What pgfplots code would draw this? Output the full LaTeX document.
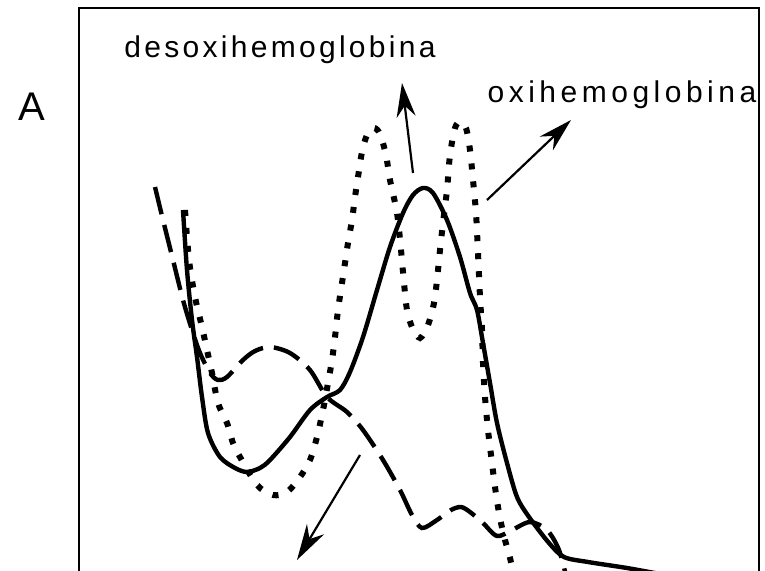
\documentclass[border=0pt]{standalone}
\usepackage{fontspec}
\setmainfont{Liberation Sans}
\usepackage{pgfplots}
\pgfplotsset{compat=1.18}
\usetikzlibrary{arrows.meta}
\begin{document}
\begin{tikzpicture}[x=1pt,y=1pt]
\useasboundingbox (0,0) rectangle (765,570);
\fill[white] (0,0) rectangle (765,570);
\begin{axis}[
  at={(79pt,562pt)}, anchor=north west,
  scale only axis, width=680pt, height=612pt,
  xmin=79, xmax=759, ymin=8, ymax=620, y dir=reverse,
  axis line style={line width=1.8pt},
  ticks=none, clip=false,
]
% deoxyhemoglobin (solid)
\addplot[black, line width=4.4pt, smooth, tension=0.5] coordinates {
(183,210) (187,270) (192,320) (197,357) (202,397) (208,433) (220,457) (235,468) (247,472) (260,468) (270,460) (290,437) (310,410) (327,397) (340,390) (350,372) (363,337) (377,290) (390,247) (403,213) (413,195) (423,188) (433,193) (447,220) (460,257) (470,293) (477,310) (483,343) (490,383) (497,423) (507,463) (517,497) (529,517) (549,543) (564,557) (588,562) (627,568) (660,574)
};
% oxyhemoglobin (dotted)
\addplot[black, line width=6pt, smooth, tension=0.5, dash pattern=on 6pt off 12pt] coordinates {
(185,210) (189,260) (195,297) (202,327) (207,350) (212,373) (218,403) (227,423) (233,443) (240,457) (257,485) (273,495) (287,492) (300,477) (310,460) (317,437) (323,410) (328,383) (332,360) (335,337) (338,310) (342,283) (345,263) (348,243) (352,220) (355,197) (358,177) (362,152) (367,135) (374,128) (380,134) (386,155) (390,180) (397,213) (401,250) (404,283) (407,310) (412,327) (420,338) (428,325) (434,303) (437,280) (440,250) (443,223) (447,190) (450,155) (455,128) (460,122) (466,128) (470,150) (473,180) (476,213) (478,253) (480,297) (482,330) (483,363) (485,397) (488,430) (492,463) (495,487) (498,507) (501,523) (505,540) (510,558) (515,580)
};
% third species (dashed)
\addplot[black, line width=4.4pt, smooth, tension=0.5, dash pattern=on 28pt off 11pt] coordinates {
(155,187) (163,220) (173,260) (183,300) (192,330) (200,353) (210,373) (218,380) (227,377) (243,360) (255,351) (270,347) (290,353) (310,370) (327,397) (347,412) (363,430) (383,460) (400,490) (412,515) (422,528) (437,520) (451,510) (461,507) (470,512) (483,523) (497,536) (512,530) (530,522) (547,530) (559,550) (567,580)
};
% arrows
\draw[-{Stealth[length=34pt,width=19pt]}, line width=2.2pt] (axis cs:413,173) -- (axis cs:402,83);
\draw[-{Stealth[length=34pt,width=19pt]}, line width=2.2pt] (axis cs:487,200) -- (axis cs:571,120);
\draw[-{Stealth[length=36pt,width=20pt]}, line width=2.2pt] (axis cs:360,455) -- (axis cs:297,560);
% labels
\node[font=\fontsize{30}{32}\addfontfeatures{LetterSpace=11}\selectfont, inner sep=0pt] at (axis cs:280,50) {desoxihemoglobina};
\node[font=\fontsize{30}{32}\addfontfeatures{LetterSpace=15}\selectfont, inner sep=0pt] at (axis cs:622,95) {oxihemoglobina};
\end{axis}
\node[font=\fontsize{40}{42}\selectfont, inner sep=0pt] at (31.5,570-107) {A};
\end{tikzpicture}
\end{document}
